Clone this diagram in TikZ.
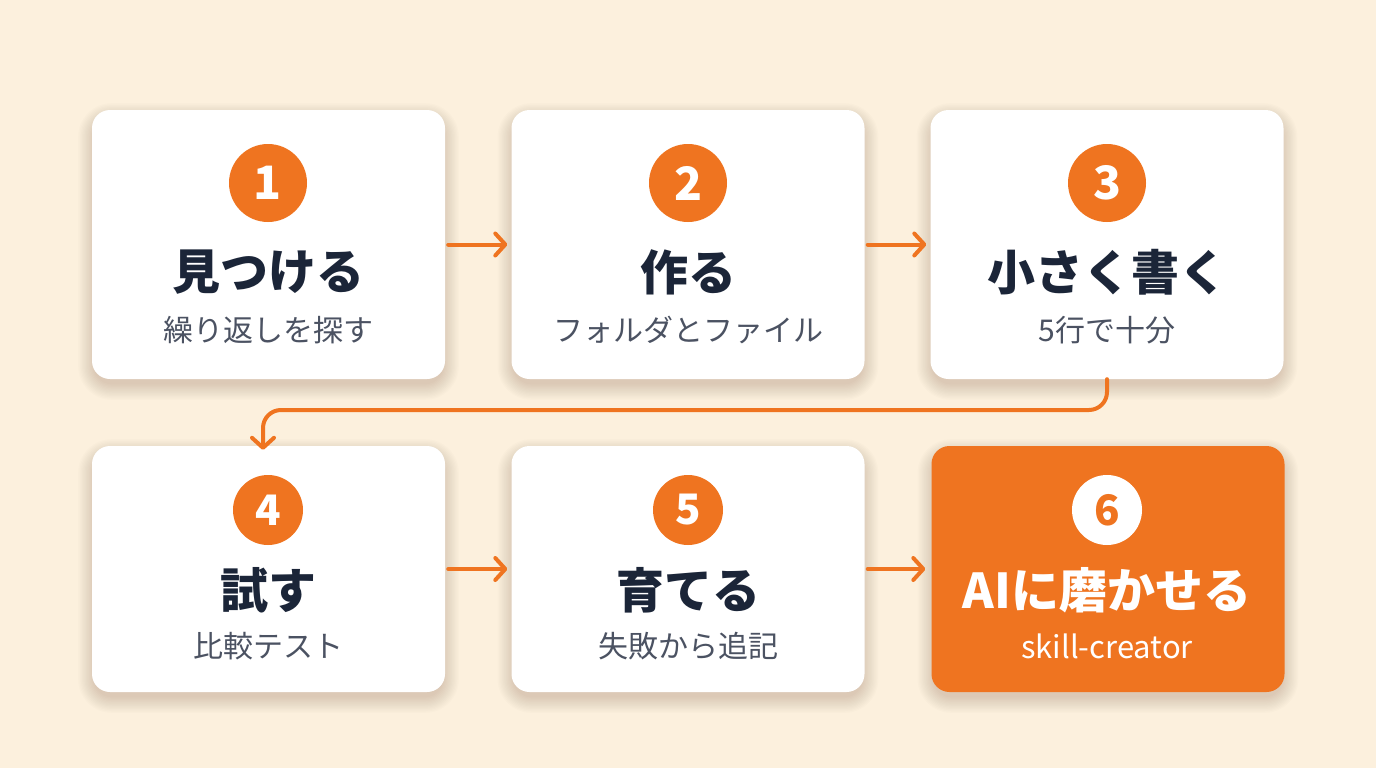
\documentclass[tikz,border=0pt]{standalone}
\usepackage{fontspec}
\setmainfont{Noto Sans CJK JP}
\usetikzlibrary{arrows.meta,calc,backgrounds}
\definecolor{bg}{HTML}{FCF0DD}
\definecolor{org}{HTML}{EF7420}
\definecolor{ttl}{HTML}{1B2538}
\definecolor{sub}{HTML}{4B5262}
\definecolor{shd}{HTML}{6B4A20}
\tikzset{
  card/.style={rounded corners=18pt, fill=white, draw=none, inner sep=0pt},
  hotcard/.style={card, fill=org},
  shadowlayer/.style={fill=shd, opacity=0.014},
  numc/.style={circle, fill=org, text=white, minimum size=78pt, inner sep=0pt, font=\fontsize{46}{46}\selectfont\bfseries},
  numcs/.style={numc, minimum size=70pt, font=\fontsize{42}{42}\selectfont\bfseries},
  ttlt/.style={text=ttl, inner sep=0pt, font=\fontsize{48}{48}\selectfont\bfseries},
  subt/.style={text=sub, inner sep=0pt, font=\fontsize{30}{30}\selectfont},
  arr/.style={draw=org, line width=4pt, line cap=round, line join=round,
    -{Straight Barb[length=10pt,width=22pt,line cap=round,line join=round]}}
}
\newcommand{\cardshadow}[1]{%
  \foreach \i in {0,...,12}{%
    \pgfmathsetmacro{\d}{\i*1.3-2}%
    \pgfmathsetmacro{\r}{18+\i*1.3}%
    \fill[shadowlayer, rounded corners=\r pt]
      ($(#1.north west)+(-\d,-\d+7)$) rectangle ($(#1.south east)+(\d,\d+7)$);
  }}
\begin{document}
\begin{tikzpicture}[x=1pt,y=-1pt]
\useasboundingbox (0,0) rectangle (1376,768);
% row 1
\node[card, minimum width=353pt, minimum height=269pt] (b1) at (268.5,244.5) {};
\node[card, minimum width=353pt, minimum height=269pt] (b2) at (688,244.5) {};
\node[card, minimum width=353pt, minimum height=269pt] (b3) at (1107,244.5) {};
% row 2
\node[card, minimum width=353pt, minimum height=246pt] (b4) at (268.5,569) {};
\node[card, minimum width=353pt, minimum height=246pt] (b5) at (688,569) {};
\node[hotcard, minimum width=353pt, minimum height=246pt] (b6) at (1108,569) {};
\begin{scope}[on background layer]
  \fill[bg] (0,0) rectangle (1376,768);
  \cardshadow{b1}\cardshadow{b2}\cardshadow{b3}
  \cardshadow{b4}\cardshadow{b5}\cardshadow{b6}
\end{scope}
% circles
\node[numc] (n1) at (268,183) {1};
\node[numc] (n2) at (688,183) {2};
\node[numc] (n3) at (1107,183) {3};
\node[numcs] (n4) at (268,510) {4};
\node[numcs] (n5) at (688,510) {5};
\node[numcs, fill=white, text=org] (n6) at (1107,510) {6};
% titles
\node[ttlt] (t1) at (268,272) {見つける};
\node[ttlt] (t2) at (688,272) {作る};
\node[ttlt] (t3) at (1107,272) {小さく書く};
\node[ttlt] (t4) at (268,590) {試す};
\node[ttlt] (t5) at (688,590) {育てる};
\node[ttlt, text=white] (t6) at (1107,590) {AIに磨かせる};
% subtitles
\node[subt] (s1) at (268,330) {繰り返しを探す};
\node[subt] (s2) at (688,330) {フォルダとファイル};
\node[subt] (s3) at (1107,330) {5行で十分};
\node[subt] (s4) at (268,646) {比較テスト};
\node[subt] (s5) at (688,646) {失敗から追記};
\node[subt, text=white, font=\fontsize{31}{31}\selectfont] (s6) at (1107,646) {skill-creator};
% connectors
\draw[arr] ([xshift=3pt]b1.east) -- ([xshift=-4pt]b2.west);
\draw[arr] ([xshift=3pt]b2.east) -- ([xshift=-4pt]b3.west);
\draw[arr] ([xshift=3pt]b4.east) -- ([xshift=-4pt]b5.west);
\draw[arr] ([xshift=3pt]b5.east) -- ([xshift=-6pt]b6.west);
\coordinate (m) at (263,410);
\draw[arr, rounded corners=18pt] (b3.south) |- (m) -- ([yshift=-4pt]m |- b4.north);
\end{tikzpicture}
\end{document}
